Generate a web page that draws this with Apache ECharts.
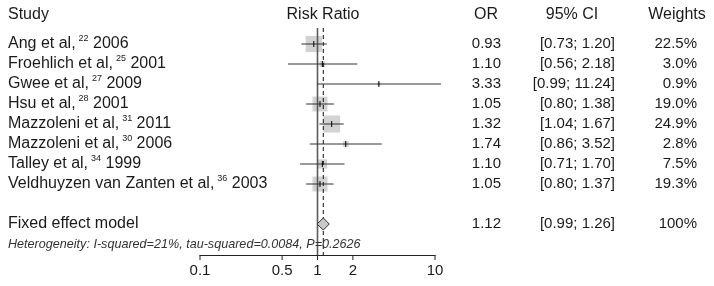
<!DOCTYPE html>
<html>
<head>
<meta charset="utf-8">
<script src="https://cdn.jsdelivr.net/npm/echarts@6/dist/echarts.min.js"></script>
<style>
  html, body { margin: 0; background: #fff; }
  #chart { width: 714px; height: 286px; }
</style>
</head>
<body>
<div id="chart"></div>
<script>
// study rows
const studies = ['Ang et al,', 'Froehlich et al,', 'Gwee et al,', 'Hsu et al,', 'Mazzoleni et al,', 'Mazzoleni et al,', 'Talley et al,', 'Veldhuyzen van Zanten et al,']
const refs    = ['22', '25', '27', '28', '31', '30', '34', '36']
const years   = ['2006', '2001', '2009', '2001', '2011', '2006', '1999', '2003']
const ratios  = [0.93, 1.10, 3.33, 1.05, 1.32, 1.74, 1.10, 1.05]
const lowers  = [0.73, 0.56, 0.99, 0.80, 1.04, 0.86, 0.71, 0.80]
const uppers  = [1.20, 2.18, 11.24, 1.38, 1.67, 3.52, 1.70, 1.37]
const weights = [22.5, 3.0, 0.9, 19.0, 24.9, 2.8, 7.5, 19.3]

// pooled estimate
const pooledLabel  = 'Fixed effect model'
const pooledRatio  = 1.12
const pooledLower  = 0.99
const pooledUpper  = 1.26
const pooledWeight = '100%'
const heterogeneity = 'Heterogeneity: I-squared=21%, tau-squared=0.0084, P=0.2626'

const tickValues = [0.1, 0.5, 1, 2, 10]
const refValues  = [1, pooledRatio]

const FONT  = "'Liberation Sans', Arial, sans-serif"
const INK   = '#1a1a1a'
const POOL_ROW = 9
const maxW  = Math.max(...weights)
const NAME_FONT = `16px ${FONT}`
const SUP_FONT  = `9px ${FONT}`

// measure text widths so the superscript sits right after the author name
const measureCtx = document.createElement('canvas').getContext('2d')
const textWidth = (text, font) => { measureCtx.font = font; return measureCtx.measureText(text).width }

const txt = (x, y, text, align, size) => ({
  type: 'text', x, y,
  style: { text, fill: INK, font: `${size || 15}px ${FONT}`, align, verticalAlign: 'middle' },
})

const chart = echarts.init(document.getElementById('chart'))

function renderStudy(params, api) {
  const i  = params.dataIndex
  const y  = api.coord([1, i])[1]
  const xl = api.coord([lowers[i], i])[0]
  const xu = api.coord([uppers[i], i])[0]
  const xe = api.coord([ratios[i], i])[0]
  const supX  = 8 + textWidth(studies[i], NAME_FONT) + 3
  const yearX = supX + textWidth(refs[i], SUP_FONT) + textWidth(' ', NAME_FONT)
  return {
    type: 'group',
    children: [
      { type: 'line', shape: { x1: xl, y1: y, x2: xu, y2: y }, style: { stroke: '#333', lineWidth: 1 } },
      { type: 'line', shape: { x1: xe, y1: y - 3, x2: xe, y2: y + 3 }, style: { stroke: '#000', lineWidth: 1 } },
      txt(8, y, studies[i], 'left', 16),
      { type: 'text', x: supX, y: y - 5, style: { text: refs[i], fill: INK, font: SUP_FONT, align: 'left', verticalAlign: 'middle' } },
      txt(yearX, y, years[i], 'left', 16),
      txt(501, y, ratios[i].toFixed(2), 'right'),
      txt(615, y, `[${lowers[i].toFixed(2)}; ${uppers[i].toFixed(2)}]`, 'right'),
      txt(697, y, `${weights[i].toFixed(1)}%`, 'right'),
    ],
  }
}

function renderBox(params, api) {
  const i = params.dataIndex
  const c = api.coord([ratios[i], i])
  const side = 17 * Math.sqrt(weights[i] / maxW)
  return { type: 'rect', shape: { x: c[0] - side / 2, y: c[1] - side / 2, width: side, height: side }, style: { fill: '#d2d2d2' } }
}

function renderRef(params, api) {
  const v  = refValues[params.dataIndex]
  const p0 = api.coord([v, -0.8])
  const p1 = api.coord([v, 10.55])
  return params.dataIndex === 0
    ? { type: 'line', shape: { x1: p0[0], y1: p0[1], x2: p1[0], y2: p1[1] }, style: { stroke: '#5a5a5a', lineWidth: 1.6 } }
    : { type: 'line', shape: { x1: p0[0], y1: p0[1], x2: p1[0], y2: p1[1] }, style: { stroke: '#111', lineWidth: 1, lineDash: [4, 3] } }
}

function renderPooled(params, api) {
  const l = api.coord([pooledLower, POOL_ROW])
  const e = api.coord([pooledRatio, POOL_ROW])
  const u = api.coord([pooledUpper, POOL_ROW])
  const y = e[1]
  return {
    type: 'group',
    children: [
      { type: 'polygon', shape: { points: [[l[0], y], [e[0], y - 6], [u[0], y], [e[0], y + 6]] },
        style: { fill: '#c8c8c8', stroke: '#333', lineWidth: 1 } },
      txt(8, y, pooledLabel, 'left', 16),
      txt(501, y, pooledRatio.toFixed(2), 'right'),
      txt(615, y, `[${pooledLower.toFixed(2)}; ${pooledUpper.toFixed(2)}]`, 'right'),
      txt(697, y, pooledWeight, 'right'),
      { type: 'text', x: 8, y: y + 20,
        style: { text: heterogeneity, fill: '#333', font: `italic 12.6px ${FONT}`, align: 'left', verticalAlign: 'middle' } },
    ],
  }
}

function renderTick(params, api) {
  const p = api.coord([tickValues[params.dataIndex], 10.55])
  return {
    type: 'group',
    children: [
      { type: 'line', shape: { x1: p[0], y1: p[1], x2: p[0], y2: p[1] + 5 }, style: { stroke: '#222', lineWidth: 1 } },
      txt(p[0], p[1] + 16, String(tickValues[params.dataIndex]), 'center', 15),
    ],
  }
}

const header = (x, text, align) => ({
  type: 'text', x, y: 15,
  style: { text, fill: INK, font: `16px ${FONT}`, align, verticalAlign: 'middle' },
})

chart.setOption({
  animation: false,
  backgroundColor: '#fff',
  grid: { left: 200, right: 279, top: 24, bottom: 31 },
  xAxis: {
    type: 'log', logBase: 10, min: 0.1, max: 10,
    axisLine: { show: true, onZero: false, lineStyle: { color: '#222', width: 1 } },
    axisTick: { show: false }, axisLabel: { show: false }, splitLine: { show: false },
  },
  yAxis: { type: 'value', inverse: true, min: -1, max: 10.55, show: false },
  graphic: [
    header(8, 'Study', 'left'),
    header(323, 'Risk Ratio', 'center'),
    header(486, 'OR', 'center'),
    header(572, '95% CI', 'center'),
    header(677, 'Weights', 'center'),
  ],
  series: [
    { type: 'custom', z: 1, renderItem: renderBox, data: ratios.map((_, i) => [ratios[i], i]) },
    { type: 'custom', z: 2, renderItem: renderRef, data: refValues.map((v) => [v, 0]) },
    { type: 'custom', z: 3, renderItem: renderStudy, data: ratios.map((_, i) => [ratios[i], i]) },
    { type: 'custom', z: 3, renderItem: renderPooled, data: [[pooledRatio, POOL_ROW]] },
    { type: 'custom', z: 3, renderItem: renderTick, data: tickValues.map((v) => [v, 10.55]) },
  ],
})
</script>
</body>
</html>
